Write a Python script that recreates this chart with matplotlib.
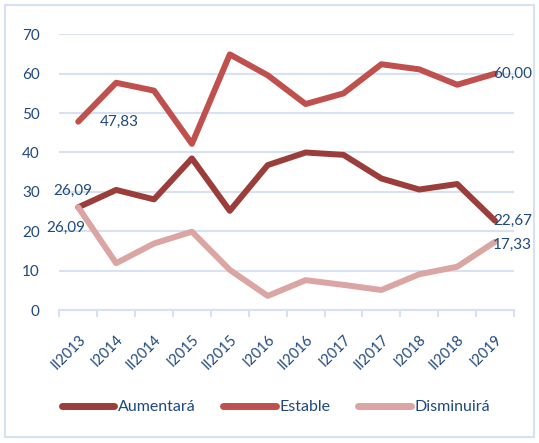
import matplotlib.pyplot as plt
from matplotlib.patches import Rectangle

# Data
periods = ["II2013", "I2014", "II2014", "I2015", "II2015", "I2016",
           "II2016", "I2017", "II2017", "I2018", "II2018", "I2019"]
aumentara = [26.09, 30.5, 28.1, 38.5, 25.2, 36.8, 40.0, 39.4, 33.4, 30.6, 32.0, 22.67]
estable = [47.83, 57.7, 55.7, 42.2, 64.9, 59.6, 52.3, 55.0, 62.4, 61.1, 57.2, 60.00]
disminuira = [26.09, 11.9, 16.9, 19.9, 10.2, 3.6, 7.6, 6.4, 5.1, 9.1, 11.0, 17.33]

text_color = "#1F497D"
grid_color = "#D6E2F2"
plt.rcParams["font.family"] = ["Lato", "DejaVu Sans"]

fig = plt.figure(figsize=(5.39, 4.43), dpi=100)
ax = fig.add_axes([0.110, 0.300, 0.8436, 0.6226])

x = list(range(len(periods)))
series = [
    ("Aumentará", aumentara, "#9B3D3A"),
    ("Estable", estable, "#C0504D"),
    ("Disminuirá", disminuira, "#DAA5A3"),
]
for name, vals, col in series:
    ax.plot(x, vals, color=col, lw=4.3, label=name,
            solid_capstyle="round", solid_joinstyle="round", zorder=3)

# Data labels
def lab(xi, val, dx, dy, ha="left"):
    ax.annotate(f"{val:.2f}".replace(".", ","), (xi, val), xytext=(dx, dy),
                textcoords="offset pixels", ha=ha, va="center",
                fontsize=11, color=text_color, zorder=4)

lab(0, estable[0], 22, 0)
lab(0, aumentara[0], -5, 16, ha="center")
lab(0, disminuira[0], -12, -21, ha="center")
lab(11, estable[11], -2, 0)
lab(11, aumentara[11], -2, 0)
lab(11, disminuira[11], -2, -3)

ax.set_xlim(-0.5, 11.5)
ax.set_ylim(0, 70)
ax.set_yticks(range(0, 71, 10))
ax.grid(axis="y", color=grid_color, lw=1.5, zorder=0)
ax.set_axisbelow(True)

ax.set_xticks(x)
ax.set_xticklabels(periods, rotation=45, ha="right", rotation_mode="anchor",
                   fontsize=10.5, color=text_color)
ax.tick_params(axis="x", which="major", length=0, pad=16)
ax.set_xticks([i - 0.5 for i in range(13)], minor=True)
ax.tick_params(axis="x", which="minor", length=5, width=1.5, color=grid_color)
ax.tick_params(axis="y", length=0, pad=14, labelsize=11, labelcolor=text_color)

for s in ["top", "right", "left"]:
    ax.spines[s].set_visible(False)
ax.spines["bottom"].set_color(grid_color)
ax.spines["bottom"].set_linewidth(1.5)

leg = fig.legend(loc="center", bbox_to_anchor=(0.512, 0.081), ncol=3,
                 frameon=False, handlelength=3.3, columnspacing=1.7,
                 handletextpad=0.25, fontsize=11.5)
for t in leg.get_texts():
    t.set_color(text_color)
for h in leg.get_lines():
    h.set_linewidth(5)
    h.set_solid_capstyle("round")

fig.patches.append(Rectangle((0.009, 0.013), 0.982, 0.975, transform=fig.transFigure,
                             fill=False, edgecolor=grid_color, lw=1.5))

fig.savefig("out.png", dpi=100)
